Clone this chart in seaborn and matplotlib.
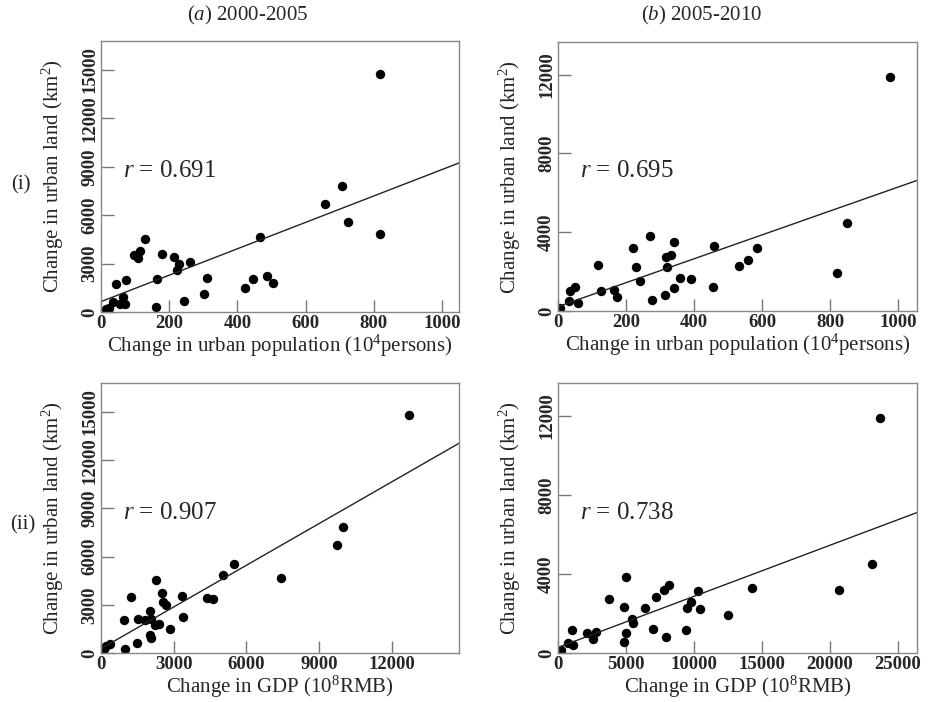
import numpy as np
import pandas as pd
import matplotlib
matplotlib.use("Agg")
import matplotlib.pyplot as plt
import seaborn as sns

# (a) 2000-2005, row (i): urban population change vs urban land change
pop_a = [818, 707, 656, 723, 819, 465, 129, 114, 98, 107, 180, 215, 230, 222, 261,
         74, 44, 165, 310, 63, 71, 57, 35, 24, 162, 243, 301, 422, 447, 486, 504, 14]
land_a_pop = [14750, 7780, 6680, 5550, 4860, 4630, 4510, 3770, 3520, 3330, 3580, 3430, 2960, 2630, 3100,
              1990, 1720, 2030, 2090, 950, 520, 520, 620, 270, 290, 680, 1100, 1470, 2070, 2230, 1820, 170]

# (a) 2000-2005, row (ii): GDP change vs urban land change
gdp_a = [12730, 9995, 9750, 5475, 5020, 7410, 2285, 2505, 1255, 3360, 2560, 2685, 4375, 4620, 2025,
         965, 1530, 1805, 2080, 2245, 2400, 3400, 2835, 2040, 2080, 1490, 995, 390, 225, 115]
land_a_gdp = [14800, 7810, 6710, 5560, 4880, 4650, 4530, 3760, 3510, 3570, 3160, 2970, 3450, 3340, 2620,
              2040, 2100, 2040, 2100, 1770, 1830, 2260, 1470, 1100, 960, 640, 270, 540, 420, 270]

# (b) 2005-2010, row (i)
pop_b = [976, 850, 821, 585, 558, 532, 458, 456, 390, 358, 342, 341, 332, 318, 321,
         315, 270, 276, 240, 229, 221, 173, 165, 127, 117, 49, 36, 33, 60, 5]
land_b_pop = [11880, 4490, 1920, 3190, 2580, 2280, 3290, 1230, 1640, 1670, 1170, 3480, 2820, 2720, 2250,
              810, 3830, 540, 1540, 2230, 3210, 690, 1050, 1030, 2350, 1200, 1000, 490, 410, 150]

# (b) 2005-2010, row (ii)
gdp_b = [23690, 23120, 20660, 14290, 12500, 10310, 10430, 9790, 9520, 9420, 8190, 7770, 7210, 6420, 6960,
         7970, 5460, 5510, 4990, 4820, 5020, 4820, 3715, 2800, 2580, 2115, 1060, 1130, 740, 200]
land_b_gdp = [11880, 4490, 3210, 3310, 1910, 3120, 2230, 2600, 2280, 1180, 3460, 3190, 2820, 2250, 1230,
              810, 1720, 1520, 3830, 2350, 1000, 540, 2720, 1050, 690, 1030, 1170, 420, 520, 150]

r_values = ["0.691", "0.695", "0.907", "0.738"]
col_titles = [r"($\it{a}$) 2000-2005", r"($\it{b}$) 2005-2010"]
row_titles = ["(i)", "(ii)"]
xlabel_pop = r"Change in urban population (10$^4$persons)"
xlabel_gdp = r"Change in GDP (10$^8$RMB)"
ylabel = r"Change in urban land (km$^2$)"

sns.set_theme(style="white")
plt.rcParams['font.family'] = ['Liberation Serif', 'DejaVu Serif']
plt.rcParams['mathtext.fontset'] = 'custom'
plt.rcParams['mathtext.rm'] = 'Liberation Serif'
plt.rcParams['mathtext.it'] = 'Liberation Serif:italic'
plt.rcParams['mathtext.bf'] = 'Liberation Serif:bold'

fig = plt.figure(figsize=(9.38, 7.02), dpi=100)

panels = [
    # x, y, xlim, ylim, xticks, yticks, xlabel, r, axes position
    (pop_a, land_a_pop, (0, 1050), (0, 16800), np.arange(0, 1001, 200), np.arange(0, 15001, 3000),
     xlabel_pop, r_values[0], [0.1077, 0.5556, 0.3817, 0.386]),
    (pop_b, land_b_pop, (0, 1055), (0, 13650), np.arange(0, 1001, 200), np.arange(0, 12001, 4000),
     xlabel_pop, r_values[1], [0.5949, 0.557, 0.3827, 0.383]),
    (gdp_a, land_a_gdp, (0, 14780), (0, 16800), np.arange(0, 12001, 3000), np.arange(0, 15001, 3000),
     xlabel_gdp, r_values[2], [0.1077, 0.0698, 0.3817, 0.3846]),
    (gdp_b, land_b_gdp, (0, 26400), (0, 13650), np.arange(0, 25001, 5000), np.arange(0, 12001, 4000),
     xlabel_gdp, r_values[3], [0.5949, 0.0698, 0.3827, 0.3846]),
]

for x, y, xlim, ylim, xt, yt, xl, r, pos in panels:
    ax = fig.add_axes(pos)
    df = pd.DataFrame({'x': x, 'y': y})
    ax.set_xlim(*xlim)
    ax.set_ylim(*ylim)
    sns.scatterplot(data=df, x='x', y='y', ax=ax, color='black', s=46, edgecolor='black', linewidth=0)
    # straight fit line across the whole axis
    sns.regplot(data=df, x='x', y='y', ax=ax, scatter=False, ci=None, truncate=False,
                color='#222222', line_kws={'linewidth': 1.0})
    ax.set_xlim(*xlim)
    ax.set_ylim(*ylim)
    ax.set_xticks(xt)
    ax.set_yticks(yt)
    ax.tick_params(direction='in', length=9, width=1, color='#777777', pad=2, labelsize=13.5,
                   bottom=True, left=True)
    for lab in ax.get_xticklabels() + ax.get_yticklabels():
        lab.set_fontweight('bold')
    for lab in ax.get_yticklabels():
        lab.set_rotation(90)
        lab.set_va('center')
    for sp in ax.spines.values():
        sp.set_color('#888888')
        sp.set_linewidth(1.0)
    ax.set_xlabel(xl, fontsize=15, labelpad=1)
    ax.set_ylabel(ylabel, fontsize=15, labelpad=11)
    ax.text(0.06, 0.52, r"$\it{r}$ = " + r, transform=ax.transAxes, fontsize=18, va='center')

fig.text(0.264, 0.978, col_titles[0], fontsize=15, ha='center', va='center')
fig.text(0.748, 0.978, col_titles[1], fontsize=15, ha='center', va='center')
fig.text(0.022, 0.737, row_titles[0], fontsize=15, ha='center', va='center')
fig.text(0.024, 0.252, row_titles[1], fontsize=15, ha='center', va='center')

plt.savefig('out.png', dpi=100)
plt.close()
